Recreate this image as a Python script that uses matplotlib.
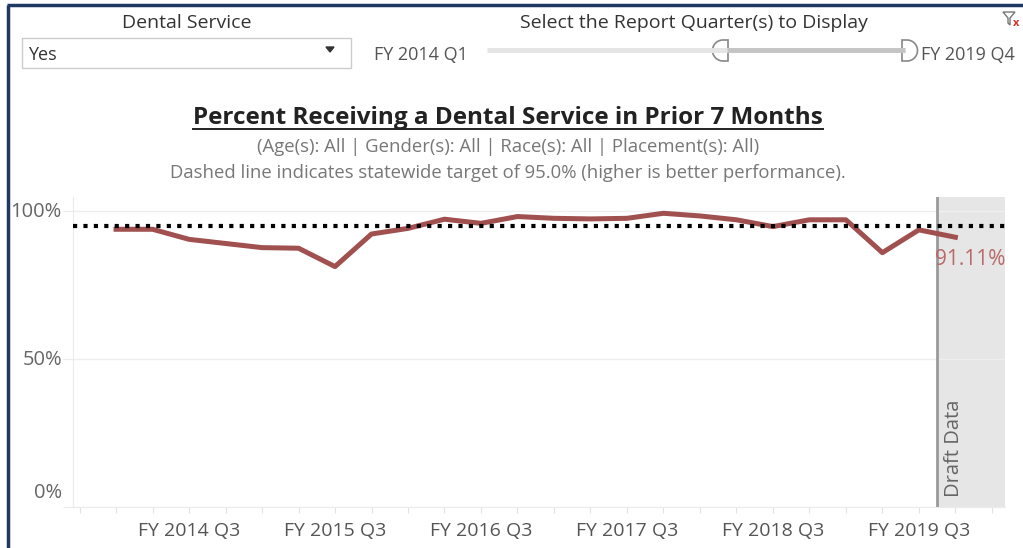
import numpy as np
import matplotlib
matplotlib.use("Agg")
import matplotlib.pyplot as plt
from matplotlib.patches import Rectangle, Polygon

plt.rcParams["font.family"] = ["Open Sans", "DejaVu Sans"]

quarters = [f"FY {y} Q{q}" for y in range(2014, 2020) for q in range(1, 5)]
pct_dental = [93.8, 93.8, 90.4, 89.0, 87.6, 87.4, 81.2, 92.2, 94.1, 97.2, 95.8, 98.1,
              97.5, 97.3, 97.5, 99.2, 98.3, 97.0, 94.7, 97.0, 97.0, 85.9, 93.6, 91.11]
target = 95.0
y_ticks = [0, 50, 100]
y_tick_labels = ["0%", "50%", "100%"]
draft_start = 22.5  # draft data begins between FY 2019 Q3 and Q4

W, H = 1023, 548
fig = plt.figure(figsize=(W / 100, H / 100), dpi=100)

# overlay in pixel coordinates for the dashboard chrome
bg = fig.add_axes([0, 0, 1, 1], zorder=0)
bg.set_xlim(0, W)
bg.set_ylim(H, 0)
bg.axis("off")

navy = "#1f3864"
bg.plot([7, W], [5, 5], color=navy, lw=2.5, solid_capstyle="butt")
bg.plot([8, 8], [5, H], color=navy, lw=2.5, solid_capstyle="butt")

bg.text(187, 23, "Dental Service", ha="center", va="center", fontsize=14, color="#333333")
bg.add_patch(Rectangle((22, 38), 329, 30, facecolor="white", edgecolor="#cccccc", lw=1))
bg.text(28, 55, "Yes", ha="left", va="center", fontsize=13, color="#333333")
bg.add_patch(Polygon([[326, 47], [334, 47], [330, 52]], closed=True, color="#333333"))
bg.text(374, 55, "FY 2014 Q1", ha="left", va="center", fontsize=13, color="#555555")

bg.text(694, 23, "Select the Report Quarter(s) to Display", ha="center", va="center",
        fontsize=14, color="#333333")
bg.plot([487, 905], [50, 50], color="#e4e4e4", lw=3.5, solid_capstyle="butt")
bg.plot([727, 905], [50, 50], color="#c4c4c4", lw=3.5, solid_capstyle="butt")


def handle(x_flat, direction):
    # D-shaped slider knob: flat side at x_flat, rounded side facing direction
    r, yc = 10.5, 50.5
    xc = x_flat + direction * 5
    t = np.radians(-90 + np.linspace(0, 180, 30) * direction)
    pts = [(x_flat, yc - r)] + list(zip(xc + r * np.cos(t), yc + r * np.sin(t))) + [(x_flat, yc + r)]
    bg.add_patch(Polygon(pts, closed=True, facecolor="white", edgecolor="#888888", lw=1.2))


handle(728, -1)
handle(902, 1)
bg.text(921, 55, "FY 2019 Q4", ha="left", va="center", fontsize=13, color="#555555")

bg.add_patch(Polygon([[1003, 12], [1015, 12], [1010, 18], [1010, 25], [1008, 23], [1008, 18]],
                     closed=True, facecolor="white", edgecolor="#777777", lw=1))
bg.text(1016, 23, "x", ha="center", va="center", fontsize=8, color="#d9342b", fontweight="bold")

title = bg.text(508, 118, "Percent Receiving a Dental Service in Prior 7 Months", ha="center",
                va="center", fontsize=17.5, fontweight="bold", color="#222222")
bg.text(508, 147, "(Age(s): All | Gender(s): All | Race(s): All | Placement(s): All)",
        ha="center", va="center", fontsize=13.3, color="#777777")
bg.text(508, 173, "Dashed line indicates statewide target of 95.0% (higher is better performance).",
        ha="center", va="center", fontsize=13.3, color="#777777")

fig.canvas.draw()
tb = title.get_window_extent().transformed(bg.transData.inverted())
bg.plot([tb.x0, tb.x1], [128.5, 128.5], color="#222222", lw=1.4)

# main chart
ax = fig.add_axes([73 / W, 1 - 507 / H, (1005 - 73) / W, (507 - 197) / H], zorder=1)
x = list(range(len(quarters)))
ax.set_xlim(-1.18, 24.36)
ax.set_ylim(0, 104.7)

ax.axvspan(draft_start, 24.36, color="#e6e6e6", lw=0, zorder=0)
ax.axvline(draft_start, color="#9a9a9a", lw=2, zorder=1)
ax.text(draft_start + 0.45, 3.3, "Draft Data", rotation=90, ha="center", va="bottom",
        fontsize=14.5, color="#666666")

ax.plot(x, pct_dental, color="#a0504f", lw=3.6, solid_joinstyle="round", zorder=3)
ax.axhline(target, color="black", lw=3, linestyle=(0, (1, 1.5)), dash_capstyle="butt", zorder=4)
ax.annotate(f"{pct_dental[-1]:.2f}%", (x[-1], pct_dental[-1]), xytext=(11, -16),
            textcoords="offset points", ha="center", va="center", fontsize=15, color="#b86968")

tick_pos = list(range(-1, 25))
tick_lab = [quarters[i] if 0 <= i < len(quarters) and quarters[i].endswith("Q3") else ""
            for i in tick_pos]
ax.set_xticks(tick_pos)
ax.set_xticklabels(tick_lab, fontsize=14, color="#555555")
ax.tick_params(axis="x", length=4, color="#e2e2e2", pad=7)

ax.set_yticks(y_ticks)
ax.set_yticklabels([])
ax.tick_params(axis="y", length=7.5, color="#ebebeb")
for v, lab in zip(y_ticks, y_tick_labels):
    dy = 10 if v == 0 else -1
    ax.annotate(lab, (0, v), xycoords=("axes fraction", "data"), xytext=(-8, dy),
                textcoords="offset points", ha="right", va="center", fontsize=14.5, color="#666666")
ax.grid(axis="y", color="#efefef", lw=1)
ax.set_axisbelow(True)

for s in ["top", "right"]:
    ax.spines[s].set_visible(False)
ax.spines["left"].set_color("#ebebeb")
ax.spines["bottom"].set_color("#ebebeb")
ax.patch.set_alpha(0)

fig.savefig("out.png", dpi=100)
